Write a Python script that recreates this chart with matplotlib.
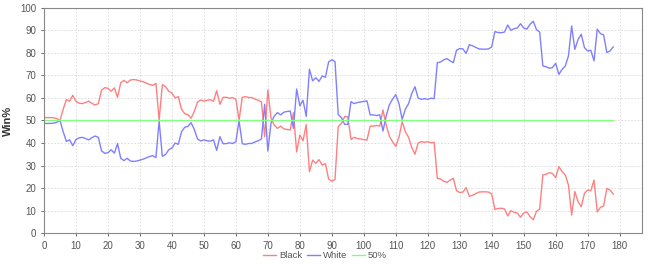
import matplotlib
matplotlib.use("Agg")
import matplotlib.pyplot as plt
import numpy as np

plt.rcParams["font.family"] = ["Liberation Sans", "DejaVu Sans"]

# win% per move
black = [51.3, 51.3, 51.3, 51.2, 50.8, 50.0, 55.0, 59.3, 58.6, 61.2,
         58.5, 57.7, 57.5, 58.0, 58.6, 57.6, 56.9, 57.5, 63.5, 64.6,
         64.3, 63.0, 64.5, 60.3, 66.8, 67.8, 66.8, 68.0, 68.2, 68.0,
         67.6, 67.2, 66.6, 66.0, 65.6, 66.5, 50.2, 65.9, 65.1, 63.0,
         62.2, 60.0, 60.6, 55.0, 53.0, 52.6, 51.0, 54.0, 58.2, 59.1,
         58.6, 59.0, 59.2, 58.6, 63.3, 57.2, 60.3, 60.3, 59.9, 60.2,
         59.4, 50.2, 60.3, 60.6, 60.2, 60.2, 59.5, 59.0, 58.2, 42.8,
         63.6, 51.0, 48.0, 46.5, 47.5, 46.3, 46.0, 45.8, 53.5, 36.0,
         43.5, 41.0, 48.2, 27.2, 32.4, 31.0, 32.6, 30.2, 30.8, 24.0,
         23.0, 23.8, 47.3, 48.7, 51.7, 51.7, 41.6, 42.5, 42.0, 41.8,
         41.5, 41.3, 47.5, 47.5, 47.8, 47.5, 54.7, 48.0, 43.0, 40.5,
         38.5, 42.5, 49.5, 45.0, 42.5, 38.0, 35.0, 40.0, 40.6, 40.3,
         40.6, 40.1, 40.3, 24.3, 24.0, 23.0, 22.5, 23.5, 24.3, 18.8,
         18.0, 18.2, 20.2, 16.3, 16.8, 17.5, 18.2, 18.3, 18.3, 18.2,
         17.3, 10.5, 10.9, 11.0, 10.7, 7.6, 9.9, 9.2, 8.9, 7.0,
         8.9, 9.4, 7.2, 5.9, 9.6, 10.7, 25.8, 26.1, 26.8, 26.5,
         24.6, 29.5, 27.3, 25.8, 21.3, 8.0, 18.4, 14.0, 11.7, 17.6,
         19.1, 18.8, 23.5, 9.4, 11.4, 12.0, 19.8, 19.1, 17.3]

white = [48.7, 48.7, 48.7, 48.8, 49.2, 50.0, 45.0, 40.7, 41.4, 38.8,
         41.5, 42.3, 42.5, 42.0, 41.4, 42.4, 43.1, 42.5, 36.5, 35.4,
         35.7, 37.0, 35.5, 39.7, 33.2, 32.2, 33.2, 32.0, 31.8, 32.0,
         32.4, 32.8, 33.4, 34.0, 34.4, 33.5, 49.8, 34.1, 34.9, 37.0,
         37.8, 40.0, 39.4, 45.0, 47.0, 47.4, 49.0, 46.0, 41.8, 40.9,
         41.4, 41.0, 40.8, 41.4, 36.7, 42.8, 39.7, 39.7, 40.1, 39.8,
         40.6, 49.8, 39.7, 39.4, 39.8, 39.8, 40.5, 41.0, 41.8, 57.2,
         36.4, 49.0, 52.0, 53.5, 52.5, 53.7, 54.0, 54.2, 46.5, 64.0,
         56.5, 59.0, 51.8, 72.8, 67.6, 69.0, 67.4, 69.8, 69.2, 76.0,
         77.0, 76.2, 52.7, 51.3, 48.3, 48.3, 58.4, 57.5, 58.0, 58.2,
         58.5, 58.7, 52.5, 52.5, 52.2, 52.5, 45.3, 52.0, 57.0, 59.5,
         61.5, 57.5, 50.5, 55.0, 57.5, 62.0, 65.0, 60.0, 59.4, 59.7,
         59.4, 59.9, 59.7, 75.7, 76.0, 77.0, 77.5, 76.5, 75.7, 81.2,
         82.0, 81.8, 79.8, 83.7, 83.2, 82.5, 81.8, 81.7, 81.7, 81.8,
         82.7, 89.5, 89.1, 89.0, 89.3, 92.4, 90.1, 90.8, 91.1, 93.0,
         91.1, 90.6, 92.8, 94.1, 90.4, 89.3, 74.2, 73.9, 73.2, 73.5,
         75.4, 70.5, 72.7, 74.2, 78.7, 92.0, 81.6, 86.0, 88.3, 82.4,
         80.9, 81.2, 76.5, 90.6, 88.6, 88.0, 80.2, 80.9, 82.7]

moves = np.arange(len(black))
even = [50.0] * len(black)

fig = plt.figure(figsize=(6.5, 2.66), dpi=100)
ax = fig.add_axes([0.0677, 0.124, 0.92, 0.846])

ax.plot(moves, black, color="#ff8080", lw=1.0, label="Black")
ax.plot(moves, white, color="#8080ff", lw=1.0, label="White")
ax.plot(moves, even, color="#80ff80", lw=1.0, label="50%")

ax.set_xlim(0, 187)
ax.set_ylim(0, 100)
ax.set_xticks(np.arange(0, 181, 10))
ax.set_yticks(np.arange(0, 101, 10))
ax.grid(True, color="#d8d8d8", linestyle=(0, (2, 2)), lw=0.6)
ax.set_axisbelow(True)
for s in ax.spines.values():
    s.set_color("#888888")
ax.tick_params(labelsize=7, colors="#555555", length=2, width=0.6)
ax.set_ylabel("Win%", fontsize=8, fontweight="bold", color="#333333", labelpad=5)

fig.legend(loc="lower center", bbox_to_anchor=(0.5, -0.01), ncol=3, frameon=False,
           fontsize=6.8, handlelength=1.4, handletextpad=0.3, columnspacing=0.5,
           labelcolor="#555555")

fig.savefig("out.png", dpi=100)
